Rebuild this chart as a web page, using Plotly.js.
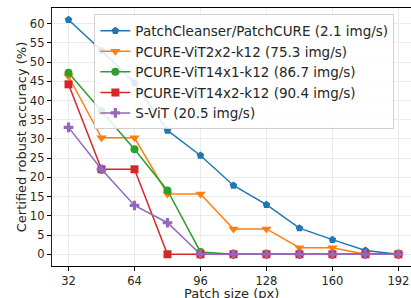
<!DOCTYPE html>
<html><head><meta charset="utf-8">
<script src="https://cdn.plot.ly/plotly-3.0.1.min.js"></script>
<style>html,body{margin:0;padding:0;background:#fff;}#chart{width:411px;height:298px;}</style>
</head><body><div id="chart"></div>
<script>
const patchSizes = [32, 48, 64, 80, 96, 112, 128, 144, 160, 176, 192];
const seriesNames = [
  "PatchCleanser/PatchCURE (2.1 img/s)",
  "PCURE-ViT2x2-k12 (75.3 img/s)",
  "PCURE-ViT14x1-k12 (86.7 img/s)",
  "PCURE-ViT14x2-k12 (90.4 img/s)",
  "S-ViT (20.5 img/s)"
];
const patchCleanser = [61.0, 53.0, 44.6, 32.2, 25.7, 17.9, 12.9, 6.8, 3.8, 1.0, 0.0];
const vit2x2 = [46.3, 30.3, 30.3, 15.7, 15.7, 6.6, 6.6, 1.7, 1.7, 0.0, 0.0];
const vit14x1 = [47.2, 37.2, 27.3, 16.6, 0.6, 0.0, 0.0, 0.0, 0.0, 0.0, 0.0];
const vit14x2 = [44.2, 22.1, 22.1, 0.0, 0.0, 0.0, 0.0, 0.0, 0.0, 0.0, 0.0];
const sVit = [33.0, 22.1, 12.7, 8.2, 0.0, 0.0, 0.0, 0.0, 0.0, 0.0, 0.0];
const xTicks = [32, 64, 96, 128, 160, 192];
const yTicks = [0, 5, 10, 15, 20, 25, 30, 35, 40, 45, 50, 55, 60];
const xTitle = "Patch size (px)";
const yTitle = "Certified robust accuracy (%)";

const allSeries = [patchCleanser, vit2x2, vit14x1, vit14x2, sVit];
const colors = ["#1f77b4", "#ff7f0e", "#2ca02c", "#d62728", "#9467bd"];
const symbols = ["pentagon", "triangle-down", "circle", "square", "cross"];
const sizes = [8, 9, 8, 8, 8];

const traces = allSeries.map((ys, i) => ({
  x: patchSizes, y: ys, name: seriesNames[i], type: "scatter", mode: "lines+markers",
  line: {color: colors[i], width: 1.5},
  marker: {color: colors[i], symbol: symbols[i], size: sizes[i]}
}));

const font = {family: "DejaVu Sans", size: 12, color: "#262626"};
const layout = {
  width: 411, height: 298,
  margin: {l: 52, r: 0, t: 8, b: 32},
  paper_bgcolor: "#fff", plot_bgcolor: "#fff",
  font: font,
  showlegend: true,
  legend: {
    x: 0.118, y: 0.975, xanchor: "left", yanchor: "top",
    bgcolor: "rgba(255,255,255,0.85)", bordercolor: "#d0d0d0", borderwidth: 1,
    font: {family: "DejaVu Sans", size: 13.5, color: "#262626"},
    tracegroupgap: 0
  },
  annotations: [{
    text: xTitle, xref: "paper", yref: "paper", x: 0.5, y: -0.105,
    xanchor: "center", yanchor: "middle", showarrow: false,
    font: {family: "DejaVu Sans", size: 13, color: "#262626"}
  }],
  xaxis: {
    range: [24, 198.1], tickvals: xTicks, ticktext: xTicks.map(String),
    showgrid: true, gridcolor: "#ebebeb", gridwidth: 1, zeroline: false,
    showline: true, linecolor: "#000", linewidth: 1.2, mirror: true,
    ticks: "outside", ticklen: 4, tickcolor: "#000", tickwidth: 1,
    tickfont: {family: "DejaVu Sans", size: 11.5, color: "#262626"},
    automargin: false
  },
  yaxis: {
    range: [-3.05, 64.05], tickvals: yTicks, ticktext: yTicks.map(String),
    showgrid: true, gridcolor: "#ebebeb", gridwidth: 1, zeroline: false,
    showline: true, linecolor: "#222", linewidth: 1.2,
    ticks: "outside", ticklen: 4, tickcolor: "#000", tickwidth: 1,
    tickfont: {family: "DejaVu Sans", size: 11.5, color: "#262626"},
    automargin: false,
    title: {text: yTitle, font: {family: "DejaVu Sans", size: 13, color: "#262626"}, standoff: 0}
  }
};
Plotly.newPlot("chart", traces, layout, {displayModeBar: false, staticPlot: true});
</script></body></html>
